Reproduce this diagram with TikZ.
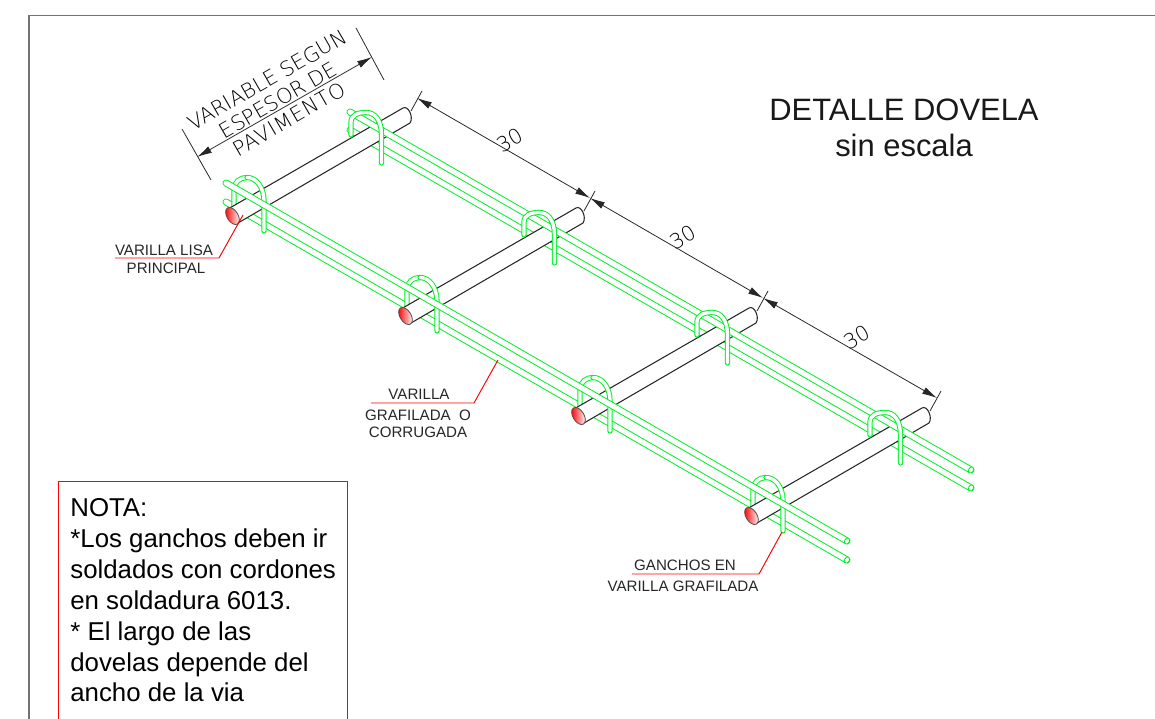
\documentclass[tikz,border=0pt]{standalone}
\usepackage{fontspec}
\setmainfont{Liberation Sans}
\newfontfamily\cadfont{DejaVu Sans ExtraLight}
\usetikzlibrary{arrows.meta,positioning}
\definecolor{rebar}{RGB}{0,240,40}
\tikzset{
  tube/.style={draw=rebar,line width=0.55pt,double=white,double distance=1.9pt,line cap=round},
  bar/.style={draw=rebar,line width=0.55pt,double=white,double distance=2.9pt,line cap=round},
  barend/.style={draw=rebar,fill=white,line width=0.5pt},
  dowel/.style={draw=black!85,fill=white,line width=0.6pt},
  face/.style={draw=black!70,line width=0.45pt,left color=red,right color=white},
  dimline/.style={draw=black!85,line width=0.45pt,{Latex[length=8.5pt,width=4.2pt]}-{Latex[length=8.5pt,width=4.2pt]}},
  tick/.style={draw=black!85,line width=0.45pt},
  leader/.style={draw=red,line width=0.55pt},
  cadtext/.style={font=\cadfont\fontsize{11.8}{12.5}\selectfont,text=black,inner sep=0pt,rotate=30},
  smalltext/.style={font=\fontsize{8.6}{10}\selectfont,text=black!85,inner sep=0pt},
}
\begin{document}
\begin{tikzpicture}[x=0.02cm,y=-0.02cm]
  \useasboundingbox (0,0) rectangle (1155,719);
  % frame
  \draw[black!55,line width=0.8pt] (29,719) -- (29,15.5) -- (1155,15.5);
  % lower bars
  \draw[bar] (226,202) -- (847,560);
  \draw[bar] (350,130) -- (971,488);
  % near hooks, left part goes under the dowel
  \foreach \k in {0,1,2,3} {
    \begin{scope}[shift={(173*\k,100*\k)}]
      \draw[tube] (234,208) -- (234,190) .. controls (234,182) and (240,177.5) .. (247,177.5);
    \end{scope}
  }
  % dowels
  \foreach \k in {0,1,2,3} {
    \begin{scope}[shift={(173*\k,100*\k)}]
      \draw[dowel] (228,209) -- (403,108) .. controls (408,105) and (414,117) .. (410,123) -- (238,223) -- cycle;
      \shade[face,rotate around={-58:(232.5,216)}] (232.5,216) ellipse (9.5 and 5.5);
    \end{scope}
  }
  % near hooks, right part in front of the dowel
  \foreach \k in {0,1,2,3} {
    \begin{scope}[shift={(173*\k,100*\k)}]
      \draw[tube] (247,177.5) .. controls (256,177.5) and (264,187) .. (264,201) -- (264,231);
    \end{scope}
  }
  % upper bars
  \draw[bar] (226,183) -- (847,541);
  \draw[bar] (350,112) -- (971,470);
  \foreach \p/\q in {847/541,847/560,971/470,971/488}
    \draw[barend,rotate around={60:(\p,\q)}] (\p,\q) ellipse (3.2 and 2.4);
  % far hooks lie over the upper bar
  \foreach \k in {0,1,2,3} {
    \begin{scope}[shift={(173*\k,100*\k)}]
      \draw[tube] (351,135) -- (351,122) .. controls (351,115) and (358,112.5) .. (366,112.5)
        .. controls (375,112.5) and (381.5,120) .. (381.5,135) -- (381.5,163);
    \end{scope}
  }
  % dimensions
  \coordinate (va) at (197,157);
  \coordinate (vb) at (372,57);
  \draw[dimline] (va) -- (vb);
  \draw[tick] (182,129) -- (211,180);
  \draw[tick] (356,28) -- (384,80);
  \node[cadtext] (variable) at (267,80) {VARIABLE SEGUN};
  \node[cadtext] (espesor) at (278,100) {ESPESOR DE};
  \node[cadtext] (pavimento) at (289,119) {\addfontfeature{LetterSpace=4}PAVIMENTO};
  \coordinate (d0) at (417,98);
  \coordinate (d1) at (590,198);
  \coordinate (d2) at (763,298);
  \coordinate (d3) at (937,398);
  \draw[dimline] (d0) -- (d1);
  \draw[dimline] (d1) -- (d2);
  \draw[dimline] (d2) -- (d3);
  \foreach \k in {0,1,2,3}
    \draw[tick,shift={(173*\k,100*\k)}] (422,91) -- (411,111);
  \node[cadtext] (dim1) at (510,140) {30};
  \node[cadtext] (dim2) at (683,237) {30};
  \node[cadtext] (dim3) at (857,337) {30};
  % titles
  \node[font=\fontsize{17.6}{20}\selectfont,text=black!90,inner sep=0pt] (title) at (904,110) {DETALLE DOVELA};
  \node[font=\fontsize{17.6}{20}\selectfont,text=black!90,inner sep=0pt] (scale) at (904,145) {sin escala};
  % leaders and labels
  \coordinate (lisaa) at (115,258);
  \coordinate (lisab) at (219,258);
  \coordinate (lisac) at (243,215);
  \draw[leader] (lisaa) -- (lisab) -- (lisac);
  \node[smalltext] (lisa) at (164,250) {VARILLA LISA};
  \node[smalltext] (principal) at (166,268) {PRINCIPAL};
  \coordinate (grafa) at (371,403);
  \coordinate (grafb) at (474,403);
  \coordinate (grafc) at (498,360);
  \draw[leader] (grafa) -- (grafb) -- (grafc);
  \node[smalltext] (varilla) at (419,394) {VARILLA};
  \node[smalltext,align=center] (grafilada) at (418,424) {GRAFILADA\ \ O\\CORRUGADA};
  \coordinate (gana) at (632,574);
  \coordinate (ganb) at (759,574);
  \coordinate (ganc) at (782,532);
  \draw[leader] (gana) -- (ganb) -- (ganc);
  \node[smalltext] (ganchos) at (685,565) {GANCHOS EN};
  \node[smalltext] (grafilada2) at (683,586) {VARILLA GRAFILADA};
  % note
  \draw[red,line width=0.55pt] (58.5,719) -- (58.5,481.5) -- (347,481.5) -- (347,719);
  \node[font=\fontsize{14.7}{17.6}\selectfont,align=left,anchor=north west,inner sep=0pt] (nota) at (70,498) {NOTA:\\*Los ganchos deben ir\\soldados con cordones\\en soldadura 6013.\\* El largo de las\\dovelas depende del\\ancho de la via};
\end{tikzpicture}
\end{document}
